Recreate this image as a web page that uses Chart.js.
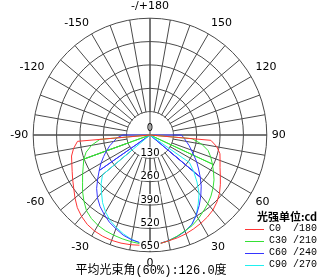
<!DOCTYPE html>
<html>
<head>
<meta charset="utf-8">
<script src="https://cdn.jsdelivr.net/npm/chart.js@4"></script>
<style>
  body { margin: 0; background: #fff; }
  #wrap { position: relative; width: 323px; height: 278px; }
  #unit { position: absolute; left: 257px; top: 208px; font: bold 11px "Noto Sans CJK SC", sans-serif; color: #000; }
  #legend { position: absolute; left: 245px; top: 223px; font: 10px/12px "Liberation Mono", monospace; color: #000; }
  #legend .row { display: flex; align-items: flex-start; height: 12px; white-space: pre; }
  #legend .swatch { flex: none; width: 19px; height: 1px; margin: 6px 5px 0 0; }
  #beam { position: absolute; left: 0; width: 302px; top: 260px; text-align: center; font: 12px "Liberation Mono", "Noto Sans CJK SC", monospace; color: #000; }
</style>
</head>
<body>
<div id="wrap">
  <canvas id="polar"></canvas>
  <div id="unit">光强单位:cd</div>
  <div id="legend"></div>
  <div id="beam">平均光束角(60%):126.0度</div>
</div>
<script>
// gamma 0,5,...,90 (cd)
const gammaStep = 5;
const c0   = [610, 607, 598, 592, 585, 576, 567, 557, 545, 527, 505, 478, 452, 430, 415, 403, 378, 340, 0];
const c180 = [610, 616, 620, 623, 624, 622, 617, 608, 592, 572, 545, 518, 497, 478, 463, 452, 432, 405, 0];
const c30  = [610, 607, 598, 583, 568, 556, 538, 518, 500, 480, 458, 435, 408, 383, 360, 335, 292, 235, 0];
const c210 = [610, 608, 603, 598, 593, 588, 580, 568, 550, 520, 490, 458, 433, 410, 392, 368, 330, 280, 0];
const c60  = [610, 607, 597, 585, 570, 550, 515, 478, 440, 403, 365, 330, 300, 270, 245, 225, 205, 190, 175];
const c240 = [610, 603, 592, 577, 555, 535, 510, 485, 455, 420, 380, 345, 315, 285, 258, 232, 205, 185, 150];
const c90  = [610, 606, 597, 585, 570, 550, 515, 468, 425, 370, 318, 268, 0, 0, 0, 0, 0, 0, 0];
const c270 = [610, 603, 590, 570, 548, 525, 495, 460, 420, 385, 345, 0, 0, 0, 0, 0, 0, 0, 0];

// straight strokes from the centre: [gamma, cd]
const spokes30 = [[65, 383], [-70, 392]];
const spokes60 = [[50, 365], [-55, 345]];

const seriesNames = ['C0  /180', 'C30 /210', 'C60 /240', 'C90 /270'];
const seriesColors = ['#ff3535', '#35e035', '#3535ff', '#20f0f0'];
const rTicks = [0, 130, 260, 390, 520, 650];
const gridColor = '#4a4a4a';

// angle labels clockwise from top: 180 ... 0 ... -175
const angles = [];
for (let i = 0; i < 360 / gammaStep; i++) angles.push(180 - i * gammaStep);

function curve(right, left) {
  return angles.map(g => {
    if (g >= 0 && g <= 90) return right[g / gammaStep];
    if (g < 0 && g >= -90) return left[-g / gammaStep];
    return 0;
  });
}
function spokeData(list) {
  return angles.map(g => {
    const s = list.find(p => p[0] === g);
    return s ? s[1] : 0;
  });
}

const curves = [curve(c0, c180), curve(c30, c210), curve(c60, c240), curve(c90, c270)];
const datasets = curves.map((d, i) => ({ label: seriesNames[i], data: d, borderColor: seriesColors[i] }));
datasets.push({ label: 'spk30', data: spokeData(spokes30), borderColor: seriesColors[1] });
datasets.push({ label: 'spk60', data: spokeData(spokes60), borderColor: seriesColors[2] });

const centerPlugin = {
  id: 'centerPlugin',
  beforeDatasetsDraw(chart) {
    const s = chart.scales.r, ctx = chart.ctx;
    const r1 = s.getDistanceFromCenterForValue(rTicks[1]);
    ctx.save();
    ctx.fillStyle = '#fff';
    ctx.beginPath();
    ctx.arc(s.xCenter, s.yCenter, r1 - 0.6, 0, Math.PI * 2);
    ctx.fill();
    ctx.strokeStyle = gridColor;
    ctx.lineWidth = 1;
    const n = angles.length;
    [[0, n / 2], [n / 4, 3 * n / 4]].forEach(([a, b]) => {
      const p = s.getPointPosition(a, s.drawingArea);
      const q = s.getPointPosition(b, s.drawingArea);
      ctx.beginPath();
      ctx.moveTo(p.x, p.y);
      ctx.lineTo(q.x, q.y);
      ctx.stroke();
    });
    ctx.restore();
  },
  afterDatasetsDraw(chart) {
    const s = chart.scales.r, ctx = chart.ctx;
    const down = angles.indexOf(0);
    ctx.save();
    ctx.font = '10px "DejaVu Sans"';
    ctx.textAlign = 'center';
    ctx.textBaseline = 'bottom';
    s.ticks.forEach(t => {
      const p = s.getPointPosition(down, s.getDistanceFromCenterForValue(t.value));
      const w = ctx.measureText(String(t.value)).width;
      if (t.value > 0) {
        ctx.fillStyle = '#fff';
        ctx.fillRect(p.x - w / 2 - 1, p.y - 11, w + 2, 10);
      }
      ctx.fillStyle = '#000';
      ctx.fillText(String(t.value), p.x, p.y + (t.value > 0 ? 0 : -2));
    });
    ctx.restore();
  }
};

Chart.defaults.font.family = '"DejaVu Sans"';
new Chart(document.getElementById('polar'), {
  type: 'radar',
  data: { labels: angles, datasets: datasets },
  options: {
    responsive: true,
    maintainAspectRatio: false,
    animation: false,
    layout: { padding: { left: 0, right: 25, top: 0, bottom: 8 } },
    elements: {
      line: { borderWidth: 1, tension: 0, fill: false },
      point: { radius: 0, hitRadius: 0 }
    },
    plugins: { legend: { display: false }, tooltip: { enabled: false } },
    scales: {
      r: {
        min: 0,
        max: 650,
        ticks: { stepSize: 130, display: false },
        grid: { circular: true, color: gridColor, lineWidth: 1 },
        angleLines: {
          color: ctx => (ctx.index % 2 === 0 ? gridColor : 'rgba(0,0,0,0)'),
          lineWidth: 1
        },
        pointLabels: {
          font: { size: 11, family: '"DejaVu Sans"' },
          color: '#000',
          padding: 5,
          callback: g => (g % 30 === 0 ? (g === 180 ? '-/+180' : String(g)) : '')
        }
      }
    }
  },
  plugins: [centerPlugin]
});

const legend = document.getElementById('legend');
seriesNames.forEach((name, i) => {
  const row = document.createElement('div');
  row.className = 'row';
  const sw = document.createElement('span');
  sw.className = 'swatch';
  sw.style.background = seriesColors[i];
  row.appendChild(sw);
  row.appendChild(document.createTextNode(name));
  legend.appendChild(row);
});
</script>
</body>
</html>
